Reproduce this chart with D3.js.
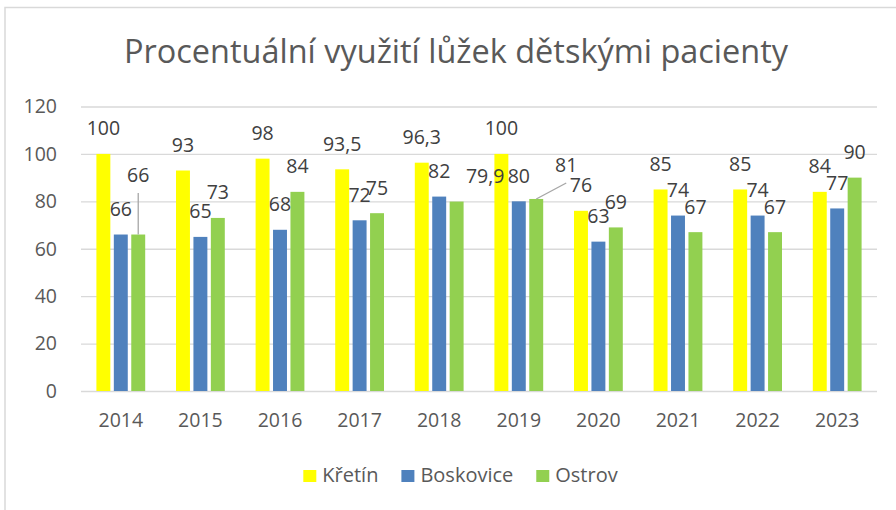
<!DOCTYPE html>
<html>
<head>
<meta charset="utf-8">
<script src="https://cdn.jsdelivr.net/npm/d3@7"></script>
<style>
  body { margin: 0; background: #fff; }
  text { font-family: 'Open Sans', sans-serif; fill: #595959; }
</style>
</head>
<body>
<div class="chart"></div>
<script>
var years = ['2014', '2015', '2016', '2017', '2018', '2019', '2020', '2021', '2022', '2023'];
var seriesNames = ['Křetín', 'Boskovice', 'Ostrov'];
var kretin = [100, 93, 98, 93.5, 96.3, 100, 76, 85, 85, 84];
var boskovice = [66, 65, 68, 72, 82, 80, 63, 74, 74, 77];
var ostrov = [66, 73, 84, 75, 79.9, 81, 69, 67, 67, 90];
var yTicks = [0, 20, 40, 60, 80, 100, 120];
var colors = ['#ffff00', '#4f81bd', '#92d050'];

// labels that were dragged away from their bar in the original
var labelMoves = [
    {series: 'Ostrov', year: '2014', dx: 0, dy: -34, leader: true},
    {series: 'Ostrov', year: '2018', dx: 28.5, dy: 0, leader: false},
    {series: 'Ostrov', year: '2019', dx: 30, dy: -8.5, leader: true}
];

var values = [kretin, boskovice, ostrov];
var bars = [];
seriesNames.forEach(function(s, si) {
    years.forEach(function(yr, i) {
        var mv = labelMoves.find(function(m) { return m.series === s && m.year === yr });
        bars.push({series: s, si: si, year: yr, value: values[si][i], move: mv});
    });
});

var width = 896, height = 510;
var margin = {top: 106.5, left: 81, right: 19, bottom: 119};

var svg = d3.select('.chart')
    .append('svg')
    .attr('width', width)
    .attr('height', height);

svg.append('rect')
    .attr('x', 5)
    .attr('y', 7.5)
    .attr('width', 1000)
    .attr('height', 1000)
    .attr('fill', 'none')
    .attr('stroke', '#d9d9d9')
    .attr('stroke-width', 1.5);

var x0 = d3.scaleBand()
    .domain(years)
    .range([margin.left, width - margin.right])
    .paddingInner(0.387)
    .paddingOuter(0.1935);

var x1 = d3.scaleBand()
    .domain(seriesNames)
    .range([0, x0.bandwidth()])
    .paddingInner(0.2);

var y = d3.scaleLinear()
    .domain([0, 120])
    .range([height - margin.bottom, margin.top]);

svg.append('text')
    .attr('x', 456)
    .attr('y', 63)
    .attr('text-anchor', 'middle')
    .attr('textLength', 664)
    .attr('lengthAdjust', 'spacingAndGlyphs')
    .style('font-size', '33px')
    .text('Procentuální využití lůžek dětskými pacienty');

var grid = svg.append('g')
    .attr('transform', 'translate(' + margin.left + ',0)')
    .call(d3.axisLeft(y)
        .tickValues(yTicks)
        .tickSize(-(width - margin.left - margin.right))
        .tickPadding(24)
    );
grid.select('.domain').remove();
grid.selectAll('.tick line').attr('stroke', '#d9d9d9').attr('stroke-width', 1.3);
grid.selectAll('.tick text').style('font-size', '19.5px').attr('fill', '#595959');

var xAxis = svg.append('g')
    .attr('transform', 'translate(0,' + y(0) + ')')
    .call(d3.axisBottom(x0).tickSize(0).tickPadding(22));
xAxis.select('.domain').remove();
xAxis.selectAll('.tick text').style('font-size', '19.5px').attr('fill', '#595959');

function barX(d) { return x0(d.year) + x1(d.series) }
function labelX(d) { return barX(d) + x1.bandwidth() / 2 + (d.move ? d.move.dx : 0) }
function labelMid(d) { return y(d.value) - 25.5 + (d.move ? d.move.dy : 0) }

svg.append('g')
    .selectAll('rect')
    .data(bars)
    .enter()
    .append('rect')
    .attr('x', barX)
    .attr('y', function(d) { return y(d.value) })
    .attr('width', x1.bandwidth())
    .attr('height', function(d) { return y(0) - y(d.value) })
    .attr('fill', function(d) { return colors[d.si] });

svg.append('g')
    .selectAll('line')
    .data(bars.filter(function(d) { return d.move && d.move.leader }))
    .enter()
    .append('line')
    .attr('x1', function(d) { return barX(d) + x1.bandwidth() / 2 })
    .attr('y1', function(d) { return y(d.value) })
    .attr('x2', labelX)
    .attr('y2', function(d) { return labelMid(d) + 18 })
    .attr('stroke', '#a6a6a6')
    .attr('stroke-width', 1.3);

svg.append('g')
    .selectAll('text')
    .data(bars)
    .enter()
    .append('text')
    .attr('x', labelX)
    .attr('y', function(d) { return labelMid(d) + 7 })
    .attr('text-anchor', 'middle')
    .style('font-size', '19.5px')
    .style('fill', '#404040')
    .text(function(d) { return String(d.value).replace('.', ',') });

// legend
var legend = svg.append('g');
var lx = 0;
seriesNames.forEach(function(s, i) {
    var item = legend.append('g').attr('transform', 'translate(' + lx + ',0)');
    item.append('rect')
        .attr('x', 0)
        .attr('y', 470)
        .attr('width', 13)
        .attr('height', 12)
        .attr('fill', colors[i]);
    var t = item.append('text')
        .attr('x', 19)
        .attr('y', 482)
        .style('font-size', '20px')
        .text(s);
    lx += 19 + t.node().getComputedTextLength() + 23;
});
var legendWidth = lx - 23;
legend.attr('transform', 'translate(' + (460.5 - legendWidth / 2) + ',0)');
</script>
</body>
</html>
